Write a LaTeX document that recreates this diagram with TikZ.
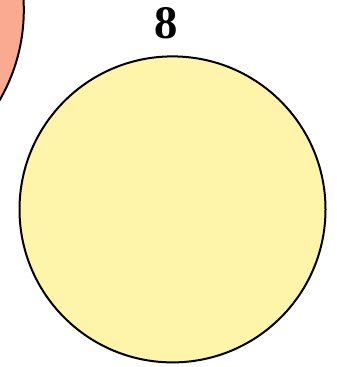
\documentclass[tikz,border=0pt]{standalone}
\usepackage{fontspec}
\setmainfont{Liberation Serif}
\usepackage{tikz}
\usetikzlibrary{positioning}
\definecolor{lemon}{HTML}{FFF5AA}
\definecolor{peach}{HTML}{F9AA90}

\begin{document}
\begin{tikzpicture}[x=0.75pt,y=-0.75pt,
  ball/.style={draw,circle,line width=1.5pt,inner sep=0pt},
  num/.style={inner sep=0pt,font=\fontsize{35}{35}\selectfont\bfseries}]
\useasboundingbox (0,0) rectangle (336,367);
\node[ball,fill=peach,minimum size=270pt] (prev) at (-156.2,10) {};
\node[ball,fill=lemon,minimum size=229.5pt] (eight) at (172.5,209.4) {};
\node[num] (eightnum) at (166,23) {8};
\end{tikzpicture}
\end{document}
